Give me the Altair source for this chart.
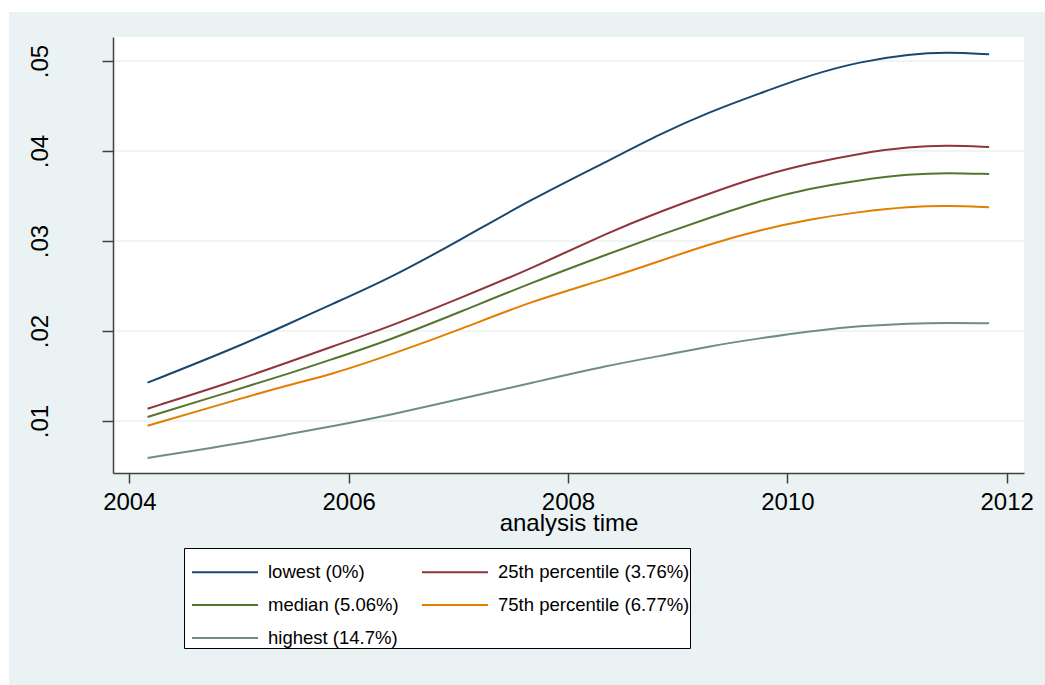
import altair as alt
import pandas as pd

# Smoothed hazard estimates by group over analysis time
years = [2004.166, 2004.918, 2005.465, 2005.829, 2006.376, 2007.045, 2007.653,
         2008.382, 2008.838, 2009.294, 2009.75, 2010.205, 2010.66, 2011.116,
         2011.466, 2011.84]

lowest = [0.01426, 0.01789, 0.02085, 0.02289, 0.02585, 0.0303, 0.03456,
          0.0390, 0.04189, 0.04437, 0.04641, 0.04844, 0.04993, 0.05078,
          0.0510, 0.05074]
pct25 = [0.01137, 0.01426, 0.01659, 0.01819, 0.02048, 0.02381, 0.02686,
         0.03104, 0.03326, 0.0353, 0.03722, 0.03863, 0.03974, 0.04048,
         0.04063, 0.04044]
median = [0.01044, 0.01326, 0.0153, 0.01678, 0.0190, 0.02226, 0.0253,
          0.02863, 0.03067, 0.03259, 0.03448, 0.03585, 0.03678, 0.03744,
          0.03759, 0.03744]
pct75 = [0.00948, 0.01214, 0.01407, 0.01511, 0.01733, 0.0203, 0.02326,
         0.02589, 0.02778, 0.02967, 0.03122, 0.03241, 0.03326, 0.03381,
         0.03393, 0.03374]
highest = [0.00589, 0.00733, 0.00856, 0.00937, 0.01067, 0.01252, 0.01419,
           0.01622, 0.01722, 0.01833, 0.01919, 0.0200, 0.02056, 0.02086,
           0.02092, 0.02086]

series_labels = ["lowest (0%)", "25th percentile (3.76%)", "median (5.06%)",
                 "75th percentile (6.77%)", "highest (14.7%)"]
series_colors = ["#1a476f", "#90353b", "#55752f", "#e37e00", "#6e8e84"]

x_ticks = [2004, 2006, 2008, 2010, 2012]
y_ticks = [0.01, 0.02, 0.03, 0.04, 0.05]

rows = []
for label, values in zip(series_labels, [lowest, pct25, median, pct75, highest]):
    for t, v in zip(years, values):
        rows.append({"time": t, "hazard": v, "group": label})
df = pd.DataFrame(rows)

FONT = "Liberation Sans"
BG = "#EAF2F3"
AXIS_COLOR = "#404040"
W, H = 911, 436

x_scale = alt.Scale(domain=[2003.851, 2012.158], nice=False, zero=False)
y_scale = alt.Scale(domain=[0.004222, 0.05267], nice=False, zero=False)

y_axis = alt.Axis(
    values=y_ticks, labelExpr="'.0' + format(datum.value * 100, 'd')",
    title=None, grid=False, zindex=1,
    domainColor=AXIS_COLOR, domainWidth=1.5,
    tickColor=AXIS_COLOR, tickWidth=1.5, tickSize=11,
    labelFont=FONT, labelFontSize=24, labelColor="black",
    labelAngle=270, labelAlign="center", labelBaseline="alphabetic",
    labelPadding=55,
)
x_axis = alt.Axis(
    values=x_ticks, format="d", title="analysis time", grid=False,
    zindex=1, domainColor=AXIS_COLOR, domainWidth=1.5,
    tickColor=AXIS_COLOR, tickWidth=1.5, tickSize=10,
    labelFont=FONT, labelFontSize=24, labelColor="black",
    labelPadding=7, labelBaseline="top",
    titleFont=FONT, titleFontSize=24, titleFontWeight="normal",
    titleColor="black", titleY=57, titleBaseline="alphabetic",
)

one = pd.DataFrame({"k": [0]})

# outer graph region and white plot region
graph_region = alt.Chart(one).mark_rect(color=BG).encode(
    x=alt.value(-104), x2=alt.value(932), y=alt.value(-25), y2=alt.value(648)
)
plot_region = alt.Chart(one).mark_rect(color="white").encode(
    x=alt.value(0), x2=alt.value(W), y=alt.value(0), y2=alt.value(H)
)

# horizontal grid lines at the y ticks
grid = alt.Chart(pd.DataFrame({"hazard": y_ticks})).mark_rule(
    color=BG, strokeWidth=1.5
).encode(
    y=alt.Y("hazard:Q", scale=y_scale, axis=y_axis),
    x=alt.value(0), x2=alt.value(W),
)

lines = alt.Chart(df).mark_line(strokeWidth=2, interpolate="basis").encode(
    x=alt.X("time:Q", scale=x_scale, axis=x_axis),
    y=alt.Y("hazard:Q", scale=y_scale, axis=y_axis),
    color=alt.Color(
        "group:N",
        scale=alt.Scale(domain=series_labels, range=series_colors),
        legend=alt.Legend(
            title=" ", titleFontSize=6, titlePadding=6,
            orient="none", direction="horizontal", legendX=71, legendY=511,
            columns=2,
            symbolType="M-3,0H3", symbolSize=484, symbolStrokeWidth=2,
            symbolOffset=29,
            labelFont=FONT, labelFontSize=18.5, labelColor="black",
            labelLimit=0, labelOffset=31,
            padding=0, rowPadding=11, columnPadding=15,
            strokeColor="black", fillColor="white",
        ),
    ),
)

chart = alt.layer(graph_region, plot_region, grid, lines).properties(
    width=W, height=H,
    autosize=alt.AutoSizeParams(type="none"),
    padding={"left": 113, "top": 37, "right": 21, "bottom": 212},
    background="white",
).configure_view(stroke=None)

chart.save("out.html", embed_options={"renderer": "svg", "actions": False})
